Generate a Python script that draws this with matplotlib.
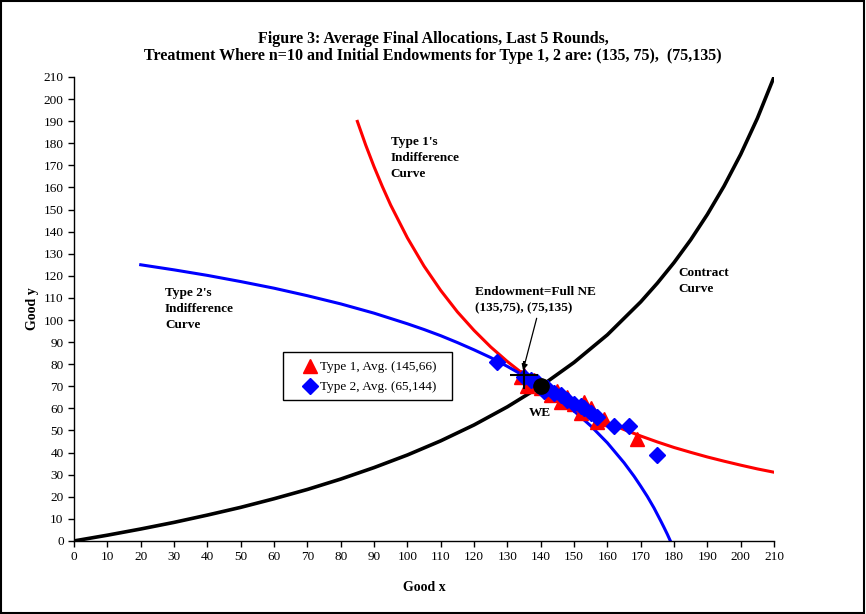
import matplotlib
matplotlib.use("Agg")
import matplotlib.pyplot as plt

plt.rcParams['font.family'] = ['Liberation Serif', 'DejaVu Serif']

# Contract curve (box coordinates)
contract_x = [0, 10, 20, 30, 40, 50, 60, 70, 80, 90, 100, 110, 120, 130, 140,
              150, 160, 170, 175, 180, 185, 190, 195, 200, 205, 210]
contract_y = [0, 2.6, 5.4, 8.4, 11.7, 15.2, 19.1, 23.3, 28.0, 33.2, 38.9, 45.3,
              52.5, 60.7, 70.0, 80.8, 93.3, 108.2, 116.7, 126.0, 136.3, 147.8,
              160.6, 175.0, 191.3, 210.0]

# Type 1 indifference curve through the equilibrium
ic1_x = [85, 87.5, 90, 92.5, 95, 100, 105, 110, 115, 120, 125, 130, 135, 140, 145,
         150, 155, 160, 165, 170, 175, 180, 185, 190, 195, 200, 205, 210]
ic1_y = [189.9, 179.2, 169.4, 160.4, 152.0, 137.2, 124.4, 113.4, 103.7, 95.3, 87.8,
         81.2, 75.3, 70.0, 65.3, 61.0, 57.1, 53.6, 50.4, 47.5, 44.8, 42.3, 40.1,
         38.0, 36.1, 34.3, 32.6, 31.1]

# Type 2 indifference curve through the equilibrium (box coordinates)
ic2_x = [20, 30, 40, 50, 60, 70, 80, 90, 100, 105, 110, 115, 120, 125, 130, 135,
         140, 145, 150, 155, 160, 165, 168, 170, 172, 174, 175, 176, 177, 178, 178.9]
ic2_y = [125.0, 122.7, 120.2, 117.4, 114.4, 111.0, 107.3, 103.1, 98.3, 95.7, 92.9,
         89.8, 86.5, 83.0, 79.0, 74.7, 70.0, 64.7, 58.8, 52.1, 44.4, 35.4, 29.3,
         24.8, 20.1, 14.9, 12.0, 9.1, 6.1, 3.0, 0.0]

# Average final allocations, last 5 rounds
type1_x = [134, 135, 136, 137, 138, 139, 140, 141, 143, 145, 146, 148, 150, 152,
           153, 155, 157, 159, 169]
type1_y = [74, 75, 70, 72, 73, 71, 69, 70, 66, 68, 63, 65, 62, 58, 63, 60, 54, 55, 46]

type2_x = [127, 135, 137, 139, 141, 142, 144, 146, 148, 150, 152, 153, 155, 157,
           162, 166.5, 175]
type2_y = [81, 74, 73, 72, 68, 69, 67, 66, 64, 62, 61, 60, 58, 56, 52, 52, 39]

endow = (135, 75)
we = (140, 70)

labels_series = ["Type 1, Avg. (145,66)", "Type 2, Avg. (65,144)"]
ticks = list(range(0, 211, 10))

fig = plt.figure(figsize=(8.66, 6.14), dpi=100)
ax = fig.add_axes([0.0855, 0.119, 0.8083, 0.7556])

ax.plot(contract_x, contract_y, color='black', lw=2.6, zorder=2)
ax.plot(ic1_x, ic1_y, color='#ff0000', lw=2.2, zorder=2)
ax.plot(ic2_x, ic2_y, color='#0000ff', lw=2.2, zorder=2)

h1, = ax.plot(type1_x, type1_y, linestyle='none', marker='^', color='#ff0000',
              markersize=10, zorder=3, label=labels_series[0])
h2, = ax.plot(type2_x, type2_y, linestyle='none', marker='D', color='#0000ff',
              markersize=8.5, zorder=4, label=labels_series[1])

ax.plot([endow[0]], [endow[1]], marker='+', color='black', markersize=20,
        markeredgewidth=1.5, zorder=5)
ax.plot([we[0]], [we[1]], marker='o', color='black', markersize=11, zorder=6)

ax.annotate('', xy=(endow[0] - 0.5, endow[1] + 1), xytext=(139, 102),
            arrowprops=dict(arrowstyle='-|>', color='black', lw=0.9,
                            mutation_scale=9), zorder=6)

bold = dict(fontweight='bold', fontsize=9.5, va='top', linespacing=1.45)
ax.text(95, 183.5, "Type 1's\nIndifference\nCurve", **bold)
ax.text(27.3, 115, "Type 2's\nIndifference\nCurve", **bold)
ax.text(181.2, 124, "Contract\nCurve", **bold)
ax.text(120.3, 115.5, "Endowment=Full NE\n(135,75), (75,135)", **bold)
ax.text(136.5, 57.8, "WE", fontweight='bold', fontsize=9.5, va='center')

ax.set_xlim(0, 210)
ax.set_ylim(0, 210)
ax.set_xticks(ticks)
ax.set_yticks(ticks)
ax.tick_params(labelsize=9.5, length=4, width=1, direction='out')
for s in ['top', 'right']:
    ax.spines[s].set_visible(False)
for s in ['left', 'bottom']:
    ax.spines[s].set_linewidth(1)

ax.set_xlabel('Good x', fontweight='bold', fontsize=10, labelpad=13)
ax.set_ylabel('Good y', fontweight='bold', fontsize=10, labelpad=3)

# legend box drawn separately so its padding can be set freely
ax.add_patch(plt.Rectangle((0.2986, 0.3039), 0.2414, 0.1034, transform=ax.transAxes,
                           facecolor='white', edgecolor='black', lw=1, zorder=7))
leg = ax.legend(handles=[h1, h2], loc='upper left', bbox_to_anchor=(0.3186, 0.405),
                fontsize=9.5, frameon=False,
                handlelength=0.8, handletextpad=0.35, borderpad=0.6,
                labelspacing=0.6, borderaxespad=0)
leg.set_zorder(8)

fig.text(0.5, 0.9357, "Figure 3: Average Final Allocations, Last 5 Rounds,",
         ha='center', va='center', fontweight='bold', fontsize=11.5)
fig.text(0.5, 0.9088, "Treatment Where n=10 and Initial Endowments for Type 1, 2 are: (135, 75),  (75,135)",
         ha='center', va='center', fontweight='bold', fontsize=11.5)

fig.patches.append(plt.Rectangle((0.001, 0.001), 0.997, 0.997, transform=fig.transFigure,
                                 fill=False, edgecolor='black', lw=1.5))

fig.savefig('out.png', dpi=100)
